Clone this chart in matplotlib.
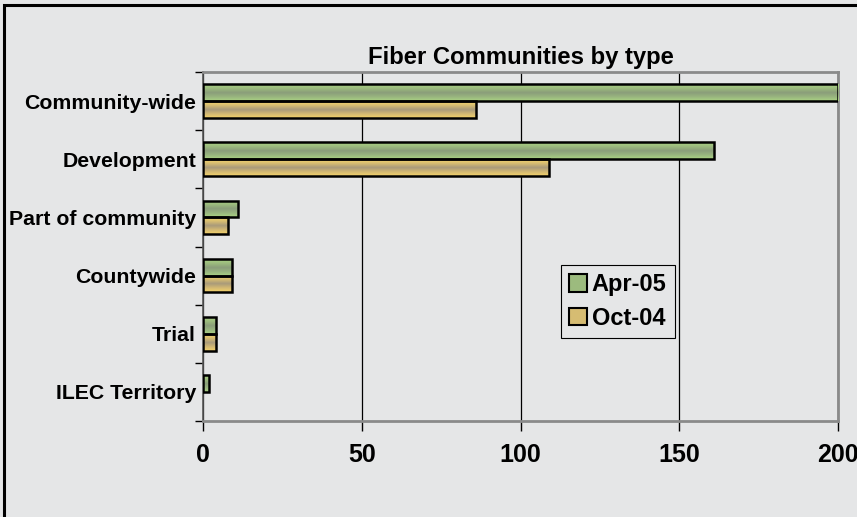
import numpy as np
import matplotlib
matplotlib.use("Agg")
import matplotlib.pyplot as plt
from matplotlib.patches import Rectangle
from matplotlib.colors import LinearSegmentedColormap

plt.rcParams['font.family'] = ['Liberation Sans', 'DejaVu Sans']
plt.rcParams['font.weight'] = 'bold'

categories = ["Community-wide", "Development", "Part of community",
              "Countywide", "Trial", "ILEC Territory"]
apr05 = [200, 161, 11, 9, 4, 2]
oct04 = [86, 109, 8, 9, 4, 0]
series_names = ["Apr-05", "Oct-04"]
x_ticks = [0, 50, 100, 150, 200]

bg = "#e5e6e7"
green_grad = LinearSegmentedColormap.from_list(
    "g", ["#aad283", "#9cbb7e", "#8a9d7a", "#98b47f", "#aad283"])
gold_grad = LinearSegmentedColormap.from_list(
    "o", ["#f6d66c", "#d6bc72", "#a99a7a", "#d2b873", "#f3d26a"])

fig = plt.figure(figsize=(8.57, 5.17), dpi=100, facecolor=bg)
ax = fig.add_axes([203 / 857, 1 - 421 / 517, 635 / 857, 349 / 517])
ax.set_facecolor(bg)

y = np.arange(len(categories))
h = 0.29
grad = np.linspace(0, 1, 64).reshape(-1, 1)


def gradient_bars(vals, offset, cmap):
    bars = ax.barh(y + offset, vals, height=h, facecolor="none",
                   edgecolor="black", linewidth=1.8, zorder=4)
    for b in bars:
        if b.get_width() <= 0:
            b.set_visible(False)
            continue
        x0, y0 = b.get_x(), b.get_y()
        im = ax.imshow(grad, cmap=cmap, aspect="auto", interpolation="bilinear",
                       extent=[x0, x0 + b.get_width(), y0 + b.get_height(), y0],
                       zorder=3)
        im.set_clip_path(b)
    return bars


gradient_bars(apr05, -h / 2, green_grad)
gradient_bars(oct04, h / 2, gold_grad)

ax.set_xlim(0, 200)
ax.set_ylim(len(categories) - 0.5, -0.5)

ax.set_xticks(x_ticks)
ax.set_xticklabels([str(t) for t in x_ticks], fontsize=18, fontweight="bold")
ax.tick_params(axis="x", length=7, width=1, color="black", pad=9)
ax.set_yticks(y)
ax.set_yticklabels(categories, fontsize=15.3, fontweight="bold")
ax.set_yticks(np.arange(-0.5, len(categories), 1.0), minor=True)
ax.tick_params(axis="y", which="major", length=0, pad=5)
ax.tick_params(axis="y", which="minor", length=6, width=1, color="black")

ax.grid(axis="x", color="black", linewidth=0.9, zorder=1)
ax.set_axisbelow(True)
for side in ["top", "right", "bottom"]:
    ax.spines[side].set_color("#8a8a8a")
    ax.spines[side].set_linewidth(2)
ax.spines["left"].set_color("#555555")
ax.spines["left"].set_linewidth(1.2)

ax.set_title("Fiber Communities by type", fontsize=17.2, fontweight="bold", pad=6)

# legend swatches
handles = [Rectangle((0, 0), 1, 1, facecolor="#9cbb7e", edgecolor="black", linewidth=1.5),
           Rectangle((0, 0), 1, 1, facecolor="#d6bc72", edgecolor="black", linewidth=1.5)]
leg = ax.legend(handles, series_names, loc="upper left",
                bbox_to_anchor=((561 - 203) / 635, (421 - 265) / 349),
                frameon=True, fancybox=False,
                facecolor=bg, edgecolor="black", framealpha=1,
                prop={"size": 17, "weight": "bold"},
                handlelength=0.75, handleheight=0.75, handletextpad=0.2,
                borderpad=0.35, labelspacing=0.45, borderaxespad=0)
leg.get_frame().set_linewidth(0.8)

# outer chart border
fig.patches.append(Rectangle((4 / 857, -0.1), 1.2, 1.1 - 5 / 517,
                             transform=fig.transFigure, fill=False,
                             edgecolor="black", linewidth=2.2))

fig.savefig("out.png", dpi=100, facecolor=bg)
